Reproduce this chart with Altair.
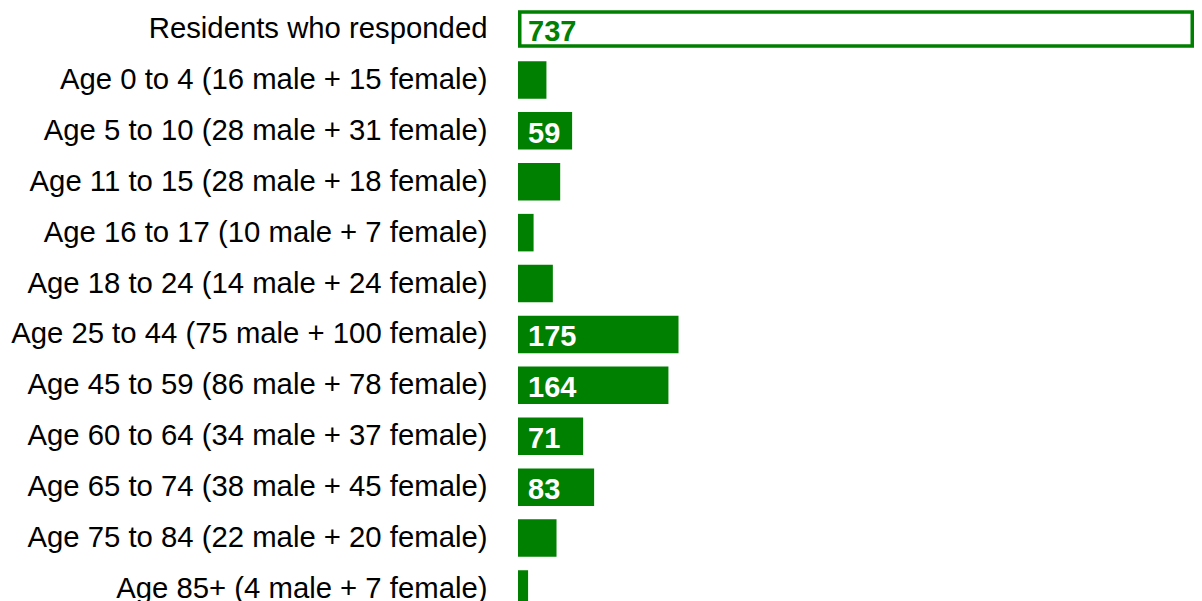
import altair as alt
import pandas as pd

categories = [
    "Residents who responded",
    "Age 0 to 4 (16 male + 15 female)",
    "Age 5 to 10 (28 male + 31 female)",
    "Age 11 to 15 (28 male + 18 female)",
    "Age 16 to 17 (10 male + 7 female)",
    "Age 18 to 24 (14 male + 24 female)",
    "Age 25 to 44 (75 male + 100 female)",
    "Age 45 to 59 (86 male + 78 female)",
    "Age 60 to 64 (34 male + 37 female)",
    "Age 65 to 74 (38 male + 45 female)",
    "Age 75 to 84 (22 male + 20 female)",
    "Age 85+ (4 male + 7 female)",
]
counts = [737, 31, 59, 46, 17, 38, 175, 164, 71, 83, 42, 11]

GREEN = "#008000"
FONT = "Liberation Sans"

df = pd.DataFrame({
    "category": categories,
    "count": counts,
    "order": list(range(len(categories))),
})

xscale = alt.Scale(domain=[0, 737], nice=False, zero=True)
yenc = alt.Y(
    "category:N",
    sort=categories,
    scale=alt.Scale(paddingInner=0.263, paddingOuter=0.044),
    axis=alt.Axis(
        title=None, ticks=False, domain=False, grid=False,
        labelFontSize=29.3, labelFont=FONT, labelColor="black",
        labelPadding=31, labelLimit=0,
    ),
)

base = alt.Chart(df)

filled = base.transform_filter("datum.order > 0").mark_bar(color=GREEN).encode(
    y=yenc,
    x=alt.X("count:Q", scale=xscale, axis=None),
)

outline = (
    base.transform_filter("datum.order == 0")
    .transform_calculate(start="0")
    .mark_bar(fill="white", stroke=GREEN, strokeWidth=3.5, size=34,
              xOffset=1.75, x2Offset=-1.75)
    .encode(
        y=yenc,
        x=alt.X("start:Q", scale=xscale, axis=None),
        x2="count:Q",
    )
)

labels = (
    base.transform_filter("datum.count >= 50")
    .mark_text(align="left", baseline="alphabetic", dx=10, dy=12,
               fontSize=29, fontWeight="bold", font=FONT)
    .encode(
        y=yenc,
        x=alt.datum(0, scale=xscale),
        text="count:Q",
        color=alt.condition("datum.order == 0", alt.value(GREEN), alt.value("white")),
    )
)

chart = (
    alt.layer(filled, outline, labels)
    .properties(
        width=676, height=602,
        padding={"left": 510, "top": 0, "right": 0, "bottom": 0},
        autosize=alt.AutoSizeParams(type="none"),
    )
    .configure_view(stroke=None)
)

chart.save("out.html", embed_options={"renderer": "svg", "actions": False})
